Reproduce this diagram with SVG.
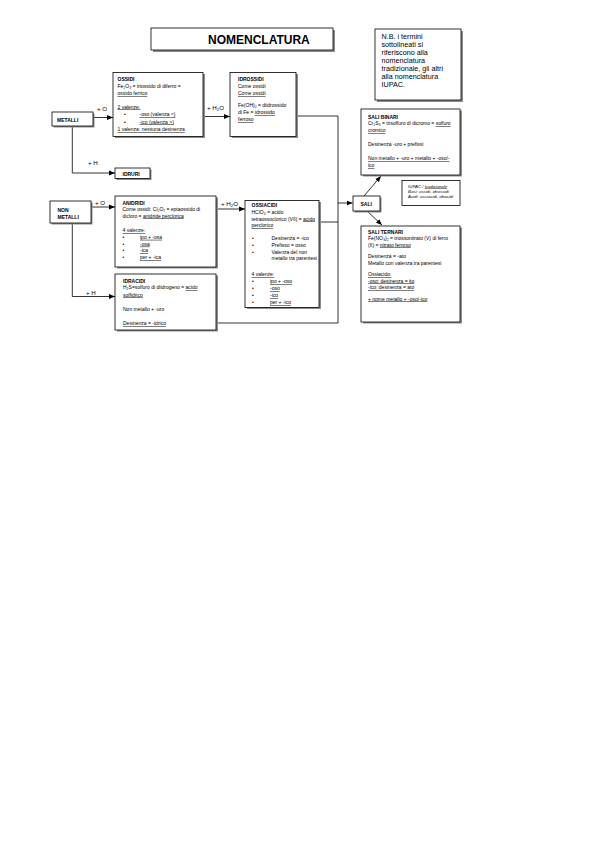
<svg xmlns="http://www.w3.org/2000/svg" width="596" height="842" viewBox="0 0 596 842">
<style>
text{font-family:"Liberation Sans",Arial,sans-serif;fill:#000}
.t{font-size:5px}
.b{font-weight:bold}
.u{text-decoration:underline}
.lab{font-size:6.2px}
.box{fill:#fff;stroke:#000;stroke-width:0.8}
.sh{fill:#8c8c8c}
.ln{fill:none;stroke:#000;stroke-width:0.8}
</style>
<defs>
<marker id="ah" viewBox="0 0 10 10" refX="10" refY="5" markerWidth="6" markerHeight="6" markerUnits="userSpaceOnUse" orient="auto">
<path d="M0,1 L10,5 L0,9 Z" fill="#000"/>
</marker>
</defs>
<rect width="596" height="842" fill="#fff"/>

<g id="connectors">
<path class="ln" d="M93,117.5 H113" marker-end="url(#ah)"/>
<path class="ln" d="M203,116.5 H230" marker-end="url(#ah)"/>
<path class="ln" d="M72.3,126 V173 H115" marker-end="url(#ah)"/>
<path class="ln" d="M92,207 H115" marker-end="url(#ah)"/>
<path class="ln" d="M216,209 H245" marker-end="url(#ah)"/>
<path class="ln" d="M72.3,224 V296.5 H115" marker-end="url(#ah)"/>
<path class="ln" d="M296,116 H338 V323 H216"/>
<path class="ln" d="M319,222 H338"/>
<path class="ln" d="M338,203 H352.5" marker-end="url(#ah)"/>
<path class="ln" d="M364,196 L381,176" marker-end="url(#ah)"/>
<path class="ln" d="M367,211 L382,225" marker-end="url(#ah)"/>
<text class="lab" x="97" y="111">+ O</text>
<text class="lab" x="207" y="110">+ H<tspan font-size="4.2" dy="1">2</tspan><tspan dy="-1">O</tspan></text>
<text class="lab" x="88" y="165">+ H</text>
<text class="lab" x="95" y="205">+ O</text>
<text class="lab" x="221" y="206">+ H<tspan font-size="4.2" dy="1">2</tspan><tspan dy="-1">O</tspan></text>
<text class="lab" x="86" y="295">+ H</text>
</g>

<g id="title">
<rect class="sh" x="153" y="30" width="182" height="22"/>
<rect class="box" x="151" y="28" width="182" height="22"/>
<text x="208" y="43.5" font-size="12" font-weight="bold">NOMENCLATURA</text>
</g>

<g id="nb">
<rect class="sh" x="377" y="31" width="86" height="71"/>
<rect class="box" x="375" y="29" width="86" height="71"/>
<text font-size="7.2" x="381.5" y="39">N.B. i termini</text>
<text font-size="7.2" x="381.5" y="47">sottolineati si</text>
<text font-size="7.2" x="381.5" y="55">riferiscono alla</text>
<text font-size="7.2" x="381.5" y="63">nomenclatura</text>
<text font-size="7.2" x="381.5" y="71">tradizionale, gli altri</text>
<text font-size="7.2" x="381.5" y="79">alla nomenclatura</text>
<text font-size="7.2" x="381.5" y="87">IUPAC.</text>
</g>

<g id="metalli">
<rect class="sh" x="53.5" y="113.5" width="41" height="14"/>
<rect class="box" x="52" y="112" width="41" height="14"/>
<text class="t b" x="57" y="121.5">METALLI</text>
</g>

<g id="ossidi">
<rect class="sh" x="115" y="74" width="90" height="64"/>
<rect class="box" x="113" y="72.5" width="90" height="64"/>
<text class="t b" x="117.5" y="81">OSSIDI</text>
<text class="t" x="117.5" y="87.5">Fe₂O₃ = triossido di diferro =</text>
<text class="t u" x="117.5" y="95">ossido ferrico</text>
<text class="t u" x="117.5" y="108.5">2 valenze:</text>
<text class="t" x="124" y="116">•</text>
<text class="t u" x="139.5" y="116">-oso (valenza &lt;)</text>
<text class="t" x="124" y="123.5">•</text>
<text class="t u" x="139.5" y="123.5">-ico (valenza &gt;)</text>
<text class="t u" x="117.5" y="131">1 valenza: nessuna desinenza</text>
</g>

<g id="idrossidi">
<rect class="sh" x="232" y="74" width="66" height="64"/>
<rect class="box" x="230" y="72.5" width="66" height="64"/>
<text class="t b" x="238" y="81">IDROSSIDI</text>
<text class="t" x="238" y="87.5">Come ossidi</text>
<text class="t u" x="238" y="95">Come ossidi</text>
<text class="t" x="238" y="107">Fe(OH)₂ = diidrossido</text>
<text class="t" x="238" y="114">di Fe = <tspan class="u">idrossido</tspan></text>
<text class="t u" x="238" y="121">ferroso</text>
</g>

<g id="idruri">
<rect class="sh" x="116.5" y="169.5" width="35" height="10.5"/>
<rect class="box" x="115" y="168" width="35" height="10.5"/>
<text class="t b" x="122.5" y="175.5">IDRURI</text>
</g>

<g id="nonmetalli">
<rect class="sh" x="51.5" y="202.5" width="41" height="22"/>
<rect class="box" x="50" y="201" width="41" height="22"/>
<text class="t b" x="57.5" y="211.5">NON</text>
<text class="t b" x="57.5" y="218.5">METALLI</text>
</g>

<g id="anidridi">
<rect class="sh" x="117" y="197.5" width="101" height="71"/>
<rect class="box" x="115" y="196" width="101" height="71"/>
<text class="t b" x="122.5" y="204.5">ANIDRIDI</text>
<text class="t" x="122.5" y="211">Come ossidi: Cl₂O₇ = eptaossido di</text>
<text class="t" x="122.5" y="217.5">dicloro = <tspan class="u">anidride perclorica</tspan></text>
<text class="t u" x="122.5" y="232">4 valenze:</text>
<text class="t" x="122.5" y="238.8">•</text>
<text class="t u" x="140" y="238.8">ipo + -osa</text>
<text class="t" x="122.5" y="245.6">•</text>
<text class="t u" x="140" y="245.6">-osa</text>
<text class="t" x="122.5" y="252.4">•</text>
<text class="t u" x="140" y="252.4">-ica</text>
<text class="t" x="122.5" y="259.2">•</text>
<text class="t u" x="140" y="259.2">per + -ica</text>
</g>

<g id="ossiacidi">
<rect class="sh" x="247" y="202" width="74" height="107"/>
<rect class="box" x="245" y="200.5" width="74" height="107"/>
<text class="t b" x="251.5" y="207">OSSIACIDI</text>
<text class="t" x="251.5" y="213.5">HClO₄ = acido</text>
<text class="t" x="251.5" y="220.5">tetraossoclorico (VII) = <tspan class="u">acido</tspan></text>
<text class="t u" x="251.5" y="227.3">perclorico</text>
<text class="t" x="252" y="240">•</text>
<text class="t" x="271.5" y="240">Desinenza = -ico</text>
<text class="t" x="252" y="246.8">•</text>
<text class="t" x="271.5" y="246.8">Prefisso = osso</text>
<text class="t" x="252" y="253.6">•</text>
<text class="t" x="271.5" y="253.6">Valenza del non</text>
<text class="t" x="271.5" y="260.4">metallo tra parentesi</text>
<text class="t u" x="251.5" y="276">4 valenze:</text>
<text class="t" x="252" y="283">•</text>
<text class="t u" x="270" y="283">ipo + -oso</text>
<text class="t" x="252" y="290">•</text>
<text class="t u" x="270" y="290">-oso</text>
<text class="t" x="252" y="297">•</text>
<text class="t u" x="270" y="297">-ico</text>
<text class="t" x="252" y="304">•</text>
<text class="t u" x="270" y="304">per + -ico</text>
</g>

<g id="idracidi">
<rect class="sh" x="117" y="275.5" width="101" height="56"/>
<rect class="box" x="115" y="274" width="101" height="56"/>
<text class="t b" x="123" y="282.5">IDRACIDI</text>
<text class="t" x="123" y="289">H₂S=solfuro di diidrogeno = <tspan class="u">acido</tspan></text>
<text class="t u" x="123" y="296.5">solfidrico</text>
<text class="t" x="123" y="310.5">Non metallo + -uro</text>
<text class="t u" x="123" y="325">Desinenza = -idrico</text>
</g>

<g id="sali">
<rect class="sh" x="354.5" y="197.5" width="27" height="15"/>
<rect class="box" x="353" y="196" width="27" height="15"/>
<text class="t b" x="360.5" y="205.5">SALI</text>
</g>

<g id="salibinari">
<rect class="sh" x="363" y="110.5" width="99" height="66"/>
<rect class="box" x="361" y="109" width="99" height="66"/>
<text class="t b" x="368" y="119">SALI BINARI</text>
<text class="t" x="368" y="125">Cr₂S₃ = trisolfuro di dicromo = <tspan class="u">solfuro</tspan></text>
<text class="t u" x="368" y="132">cromico</text>
<text class="t" x="368" y="146">Desinenza -uro + prefissi</text>
<text class="t u" x="368" y="160">Non metallo + -uro + metallo + -oso/-</text>
<text class="t u" x="368" y="167">ico</text>
</g>

<g id="iupac">
<rect class="box" x="402" y="180.5" width="58" height="25"/>
<text font-size="4.4" font-style="italic" x="408" y="187.5">IUPAC / <tspan class="u">tradizionale</tspan></text>
<text font-size="4.4" font-style="italic" x="408" y="192.5">Basi: ossidi, idrossidi</text>
<text font-size="4.4" font-style="italic" x="408" y="197.5">Acidi: ossiacidi, idracidi</text>
</g>

<g id="saliternari">
<rect class="sh" x="363" y="227.5" width="99" height="96"/>
<rect class="box" x="361" y="226" width="99" height="96"/>
<text class="t b" x="368" y="233.5">SALI TERNARI</text>
<text class="t" x="368" y="239.5">Fe(NO₃)₂ = triossonitrato (V) di ferro</text>
<text class="t" x="368" y="246.5">(II) = <tspan class="u">nitrato ferroso</tspan></text>
<text class="t" x="368" y="258">Desinenza = -ato</text>
<text class="t" x="368" y="264.5">Metallo con valenza tra parentesi</text>
<text class="t u" x="368" y="276">Ossiacido:</text>
<text class="t u" x="368" y="282.5">-oso: desinenza = ito</text>
<text class="t u" x="368" y="289">-ico: desinenza = ato</text>
<text class="t u" x="368" y="300.5">+ nome metallo + -oso/-ico</text>
</g>
</svg>
